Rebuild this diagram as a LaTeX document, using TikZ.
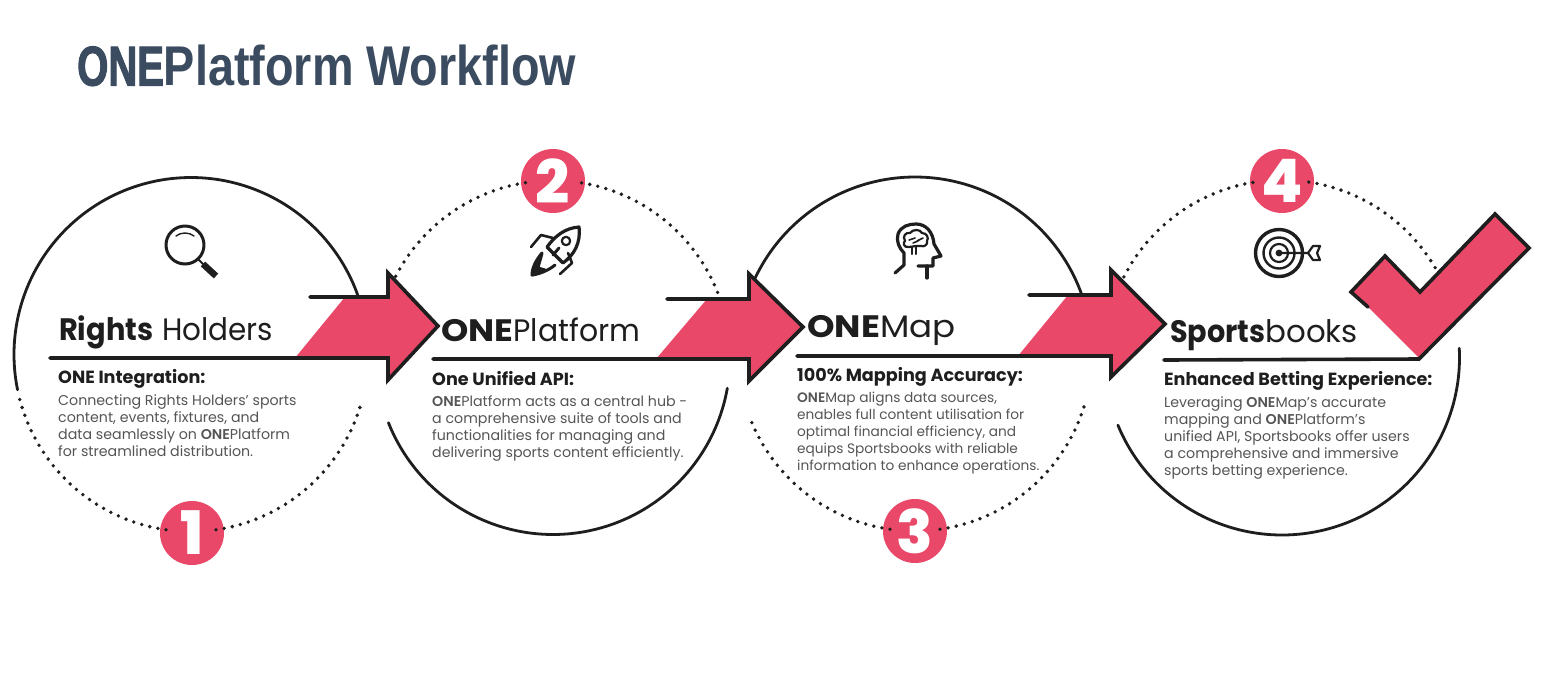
\documentclass[tikz,border=0pt]{standalone}
\usepackage{fontspec}
\setmainfont{Poppins}
\newfontfamily\lightf{Poppins}[BoldFont=Poppins SemiBold]
\newfontfamily\headf{Poppins}[BoldFont=Poppins Bold]
\newfontfamily\digitf{Poppins ExtraBold}
\newfontfamily\titlef{Liberation Sans Bold}[FakeStretch=0.835]
\newfontfamily\titleheavy{Liberation Sans Bold}[FakeStretch=0.715,FakeBold=1.8]
\definecolor{ink}{HTML}{1E1E1E}
\definecolor{rose}{HTML}{EA4868}
\definecolor{slate}{HTML}{3B4B60}
\definecolor{bodyc}{HTML}{555555}
\newcommand\hb[2]{\scalebox{#1}[1]{\bfseries #2}}
\newcommand\hr[2]{\scalebox{#1}[1]{#2}}
\tikzset{
  x=1pt,y=-1pt,
  ring/.style={draw=ink,line width=2.8pt,line cap=round},
  dots/.style={draw=ink,line width=3.8pt,line cap=round,dash pattern=on 0pt off 8.3pt},
  edge/.style={draw=ink,line width=3.6pt,line join=miter,line cap=round},
  blush/.style={fill=rose},
  badge/.style={circle,fill=rose,minimum size=64pt,inner sep=0pt,text=white,font=\fontsize{60}{60}\selectfont\digitf},
  heading/.style={anchor=base west,inner sep=0pt,text=ink,font=\fontsize{31}{32}\selectfont\headf},
  sub/.style={anchor=base west,inner sep=0pt,text=ink,font=\fontsize{17.6}{18}\selectfont\bfseries},
  para/.style={anchor=base west,inner sep=0pt,text=bodyc,font=\fontsize{14.2}{16.8}\selectfont\lightf},
  paratight/.style={para,font=\fontsize{13.7}{16.8}\selectfont\lightf},
  icon/.style={draw=ink,line width=3pt,line join=round,line cap=round},
}
\newcommand\ringarc[6]{\draw[#1] plot[smooth,domain=#5:#6,samples=90] ({#2+#4*cos(\x)},{#3-#4*sin(\x)});}
\begin{document}
\begin{tikzpicture}
\useasboundingbox (0,0) rectangle (1541,681);
\fill[white] (0,0) rectangle (1541,681);
\node[anchor=base west,inner sep=0pt,text=slate,font=\fontsize{56}{56}\selectfont\titlef] (title) at (77,85.5) {{\titleheavy ONE}Platform Workflow};

% ---------- rings
\ringarc{ring}{191}{354.5}{177}{18.9}{191.5}
\ringarc{ring}{553}{357.5}{177}{-10}{-158.4}
\ringarc{ring}{915}{354}{177}{19.3}{154.6}
\ringarc{ring}{1282}{357.5}{177.5}{3}{-157.6}

% ---------- badges
\node[badge] (b1) at (192,533) {1};
\node[badge] (b2) at (553,181) {2};
\node[badge] (b3) at (915,531) {3};
\node[badge] (b4) at (1282,181) {4};

% ---------- dotted arcs
\ringarc{dots}{191}{354.5}{177}{261.9}{193.5}
\ringarc{dots}{191}{354.5}{177}{278.1}{343.5}
\ringarc{dots}{553}{357.5}{177}{21.6}{81.9}
\ringarc{dots}{553}{357.5}{177}{152.7}{98.1}
\ringarc{dots}{915}{354}{177}{261.9}{201.8}
\ringarc{dots}{915}{354}{177}{278.1}{343.5}
\ringarc{dots}{1282}{357.5}{177.5}{30.4}{81.9}
\ringarc{dots}{1282}{357.5}{177.5}{153}{98.1}

% ---------- arrow 1
\fill[blush] (345,297) -- (388,297) -- (388,273) -- (438,326) -- (388,380) -- (388,358) -- (295,358) -- cycle;
\draw[edge] (310,297) -- (388,297) -- (388,273) -- (438,326) -- (388,380) -- (388,358) -- (50,358);
% ---------- arrow 2
\fill[blush] (707,299) -- (749,299) -- (749,274) -- (803,327) -- (749,381) -- (749,359) -- (656,359) -- cycle;
\draw[edge] (667,299) -- (749,299) -- (749,274) -- (803,327) -- (749,381) -- (749,359) -- (433,359);
% ---------- arrow 3
\fill[blush] (1068,295) -- (1111,295) -- (1111,270) -- (1165,324) -- (1111,377) -- (1111,356) -- (1018,356) -- cycle;
\draw[edge] (1029,295) -- (1111,295) -- (1111,270) -- (1165,324) -- (1111,377) -- (1111,356) -- (797,356);
% ---------- check mark
\fill[blush] (1351,292) -- (1385,256) -- (1420,292) -- (1495,214) -- (1529,248) -- (1419,358) -- (1368,307) -- cycle;
\draw[edge] (1368,307) -- (1351,292) -- (1385,256) -- (1420,292) -- (1495,214) -- (1529,248) -- (1419,359) -- (1164,360);

% ---------- magnifier
\draw[icon] (185,245) circle[radius=19];
\draw[icon,line width=1.4pt] (176,236) .. controls (181,232) and (189,232) .. (194,236);
\draw[icon,line width=2pt] (198,259) -- (204,265);
\draw[draw=ink,line width=6.5pt] (203,264) -- (216,276);

% ---------- rocket
\draw[icon,line width=3.2pt] (579,227) .. controls (565,228) and (555,236) .. (547,247) -- (563,263) .. controls (574,255) and (581,243) .. (579,227) -- cycle;
\draw[icon,line width=2.2pt] (566,241) circle[radius=4.2];
\draw[icon] (559,248) -- (553,255);
\draw[icon,line width=2.6pt] (531,247) -- (541,235) -- (553,238);
\draw[icon,line width=2.6pt] (560,274) -- (572,263) -- (568,253);
\draw[icon,fill=ink] (542,253) .. controls (536,260) and (532,268) .. (532,275) .. controls (537,274) and (541,272) .. (545,270) -- (538,268) .. controls (539,263) and (541,258) .. (542,253) -- cycle;
\draw[icon] (532,275) .. controls (540,274) and (549,270) .. (555,265);

% ---------- head with brain
\draw[icon,line width=3.2pt] (895,273) -- (904,265) -- (904,253) .. controls (899,248) and (896,241) .. (898,234) .. controls (901,226) and (909,224) .. (916,224) .. controls (926,224) and (933,232) .. (934,244) -- (941,256) -- (933,258) -- (933,266) -- (918,266);
\draw[icon,line width=3.2pt] (927,266) -- (927,278);
\draw[icon,line width=2.2pt] (909,247) .. controls (903,248) and (903,242) .. (905,241) .. controls (902,236) and (906,232) .. (910,233) .. controls (913,229) and (920,229) .. (922,233) .. controls (927,233) and (929,238) .. (927,241) .. controls (928,245) and (924,247) .. (921,246) -- (916,246) -- cycle;
\draw[icon,line width=2pt] (912,247) -- (912,254) (916,246) -- (916,254);
\draw[icon,line width=1.6pt] (909,240) -- (915,238) (917,241) -- (923,238) (913,243) -- (918,241);

% ---------- target
\draw[icon,line width=3.4pt] (1279,253) circle[radius=23.5];
\draw[icon,line width=2.4pt] (1279,253) circle[radius=15.5];
\draw[icon,line width=2.2pt] (1279,253) circle[radius=9];
\fill[ink] (1279,253) circle[radius=3.4];
\draw[icon,line width=2.2pt] (1279,253) -- (1308,253) -- (1313,246) -- (1320,246) -- (1317,253) -- (1320,260) -- (1313,260) -- (1308,253);

% ---------- panel 1
\node[heading] (h1) at (59,340) {\hb{0.93}{Rights}\hspace{9pt}\hr{0.95}{Holders}};
\node[sub] (s1) at (58,383) {ONE Integration:};
\node[para] at (58,405) {Connecting Rights Holders’ sports};
\node[para] at (58,422) {content, events, fixtures, and};
\node[para] at (58,439) {data seamlessly on \textbf{ONE}Platform};
\node[para] at (58,456) {for streamlined distribution.};

% ---------- panel 2
\node[heading] (h2) at (441,341) {\hb{1.12}{ONE}\hr{0.965}{Platform}};
\node[sub] (s2) at (432,385) {One Unified API:};
\node[para] at (432,406) {\textbf{ONE}Platform acts as a central hub -};
\node[para] at (432,423) {a comprehensive suite of tools and};
\node[para] at (432,440) {functionalities for managing and};
\node[para] at (432,457) {delivering sports content efficiently.};

% ---------- panel 3
\node[heading] (h3) at (807,337) {\hb{1.13}{ONE}\hr{1.1}{Map}};
\node[sub] (s3) at (797,381) {100\% Mapping Accuracy:};
\node[paratight] at (797,402) {\textbf{ONE}Map aligns data sources,};
\node[paratight] at (797,419) {enables full content utilisation for};
\node[paratight] at (797,436) {optimal financial efficiency, and};
\node[paratight] at (797,453) {equips Sportsbooks with reliable};
\node[paratight] at (797,470) {information to enhance operations.};

% ---------- panel 4
\node[heading] (h4) at (1170,342) {\hb{0.925}{Sports}\hr{0.995}{books}};
\node[sub] (s4) at (1164,385) {Enhanced Betting Experience:};
\node[para] at (1164,407) {Leveraging \textbf{ONE}Map’s accurate};
\node[para] at (1164,424) {mapping and \textbf{ONE}Platform’s};
\node[para] at (1164,441) {unified API, Sportsbooks offer users};
\node[para] at (1164,458) {a comprehensive and immersive};
\node[para] at (1164,475) {sports betting experience.};
\end{tikzpicture}
\end{document}
